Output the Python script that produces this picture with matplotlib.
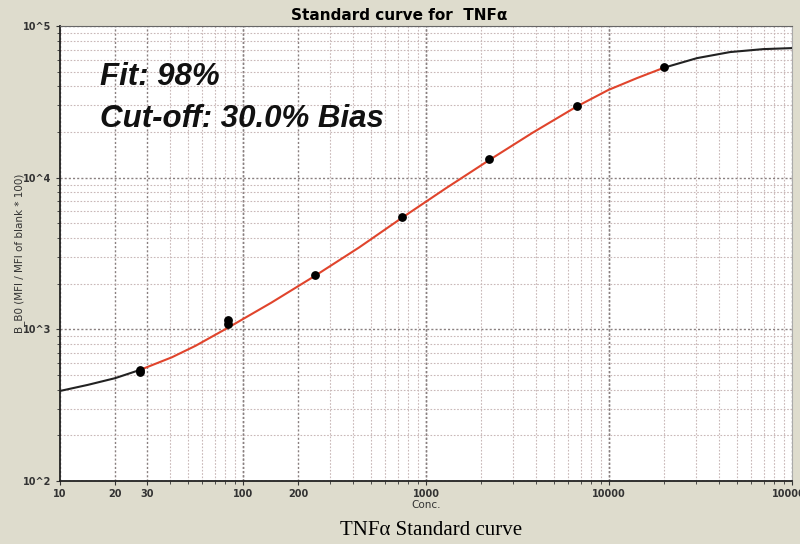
import matplotlib
matplotlib.use("Agg")
import matplotlib.pyplot as plt
from matplotlib.ticker import FixedLocator, FixedFormatter, LogLocator, NullFormatter

# standards (3-fold dilutions)
std_conc = [27.4, 27.4, 82.3, 82.3, 247, 741, 2222, 6667, 20000]
std_mfi = [525, 540, 1153, 1086, 2285, 5508, 13280, 29700, 53700]

# fitted curve
curve_conc = [10, 14.2, 20, 27.4, 40.9, 55, 82.3, 143, 247, 430, 741, 1283,
              2222, 3849, 6667, 9890, 14220, 20000, 30270, 45800, 69500, 100000]
curve_mfi = [392, 430, 476, 540, 654, 778, 1020, 1500, 2250, 3460, 5450, 8510,
             13100, 19900, 29500, 37850, 45400, 53200, 61500, 67400, 70500, 71600]
fit_lo, fit_hi = 27.4, 20000

x_ticks = [10, 20, 30, 100, 200, 1000, 10000, 100000]
x_ticklabels = ["10", "20", "30", "100", "200", "1000", "10000", "100000"]
y_ticks = [100, 1000, 10000, 100000]
y_ticklabels = ["10^2", "10^3", "10^4", "10^5"]

bg = "#dedccd"
fig = plt.figure(figsize=(8, 5.44), dpi=100, facecolor=bg)
ax = fig.add_axes([0.075, 0.116, 0.915, 0.836])
ax.set_facecolor("white")
ax.set_xscale("log")
ax.set_yscale("log")
ax.set_xlim(10, 100000)
ax.set_ylim(100, 100000)

# curve: black outside the standards range, red inside
lo_x = [c for c in curve_conc if c <= fit_lo]
lo_y = [m for c, m in zip(curve_conc, curve_mfi) if c <= fit_lo]
mid_x = [c for c in curve_conc if fit_lo <= c <= fit_hi]
mid_y = [m for c, m in zip(curve_conc, curve_mfi) if fit_lo <= c <= fit_hi]
hi_x = [c for c in curve_conc if c >= fit_hi]
hi_y = [m for c, m in zip(curve_conc, curve_mfi) if c >= fit_hi]
ax.plot(lo_x, lo_y, color="#222222", lw=1.5, zorder=3)
ax.plot(hi_x, hi_y, color="#222222", lw=1.5, zorder=3)
ax.plot(mid_x, mid_y, color="#e0442c", lw=1.5, zorder=3)
ax.plot(std_conc, std_mfi, "o", color="black", ms=5.3, zorder=4)

ax.xaxis.set_major_locator(FixedLocator(x_ticks))
ax.xaxis.set_major_formatter(FixedFormatter(x_ticklabels))
ax.xaxis.set_minor_locator(LogLocator(base=10, subs=range(2, 10)))
ax.xaxis.set_minor_formatter(NullFormatter())
ax.yaxis.set_major_locator(FixedLocator(y_ticks))
ax.yaxis.set_major_formatter(FixedFormatter(y_ticklabels))
ax.yaxis.set_minor_locator(LogLocator(base=10, subs=range(2, 10)))
ax.yaxis.set_minor_formatter(NullFormatter())

ax.grid(True, which="minor", color="#c9b8b8", ls=(0, (1.5, 1.5)), lw=0.8)
ax.grid(True, which="major", color="#8a8080", ls=(0, (1.5, 1.5)), lw=1.0)
# the decade lines on x are drawn darker
for v in [100, 1000, 10000]:
    ax.axvline(v, color="#777070", ls=(0, (1.5, 1.5)), lw=1.0, zorder=1)

ax.tick_params(which="both", direction="out", labelsize=7, length=3, color="#333333")
ax.tick_params(which="minor", length=2)
ax.tick_params(axis="x", pad=3)
for lab in ax.get_xticklabels() + ax.get_yticklabels():
    lab.set_fontweight("bold")
    lab.set_color("#333333")

for s in ["left", "bottom"]:
    ax.spines[s].set_color("#222222")
    ax.spines[s].set_linewidth(1.3)
ax.spines["top"].set_color("#666666")
ax.spines["right"].set_color("#aaaaaa")

ax.set_xlabel("Conc.", fontsize=7.5, color="#333333")
ax.xaxis.set_label_coords(0.5, -0.043)
ax.set_ylabel("B_B0 (MFI / MFI of blank * 100)", fontsize=7.5, color="#333333")
ax.yaxis.set_label_coords(-0.048, 0.5)

ax.text(0.055, 0.888, "Fit: 98%", transform=ax.transAxes, fontsize=22.5,
        style="italic", fontweight="bold", fontfamily="Liberation Sans",
        va="center", color="#111111")
ax.text(0.055, 0.796, "Cut-off: 30.0% Bias", transform=ax.transAxes, fontsize=22.5,
        style="italic", fontweight="bold", fontfamily="Liberation Sans",
        va="center", color="#111111")

fig.text(0.499, 0.985, "Standard curve for  TNFα", ha="center", va="top",
         fontsize=11, fontweight="bold", fontfamily="DejaVu Sans")
fig.text(0.539, 0.024, "TNFα Standard curve", ha="center", va="center",
         fontsize=15, fontfamily="Liberation Serif")

fig.savefig("out.png", dpi=100, facecolor=bg)
